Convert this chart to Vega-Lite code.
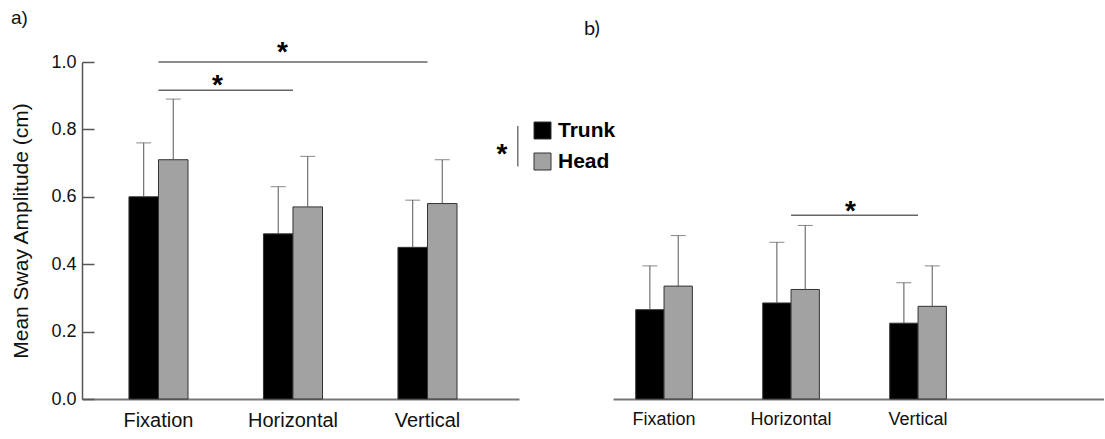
{
  "$schema": "https://vega.github.io/schema/vega-lite/v6.json",
  "background": "white",
  "padding": {"left": 10, "top": 9, "right": 0, "bottom": 0},
  "config": {"view": {"stroke": null}, "font": "Liberation Sans"},
  "datasets": {
    "bars": [
      {"panel": "a", "condition": "Fixation", "segment": "Trunk", "mean": 0.60, "upper": 0.76},
      {"panel": "a", "condition": "Fixation", "segment": "Head", "mean": 0.71, "upper": 0.89},
      {"panel": "a", "condition": "Horizontal", "segment": "Trunk", "mean": 0.49, "upper": 0.63},
      {"panel": "a", "condition": "Horizontal", "segment": "Head", "mean": 0.57, "upper": 0.72},
      {"panel": "a", "condition": "Vertical", "segment": "Trunk", "mean": 0.45, "upper": 0.59},
      {"panel": "a", "condition": "Vertical", "segment": "Head", "mean": 0.58, "upper": 0.71},
      {"panel": "b", "condition": "Fixation", "segment": "Trunk", "mean": 0.265, "upper": 0.395},
      {"panel": "b", "condition": "Fixation", "segment": "Head", "mean": 0.335, "upper": 0.485},
      {"panel": "b", "condition": "Horizontal", "segment": "Trunk", "mean": 0.285, "upper": 0.465},
      {"panel": "b", "condition": "Horizontal", "segment": "Head", "mean": 0.325, "upper": 0.515},
      {"panel": "b", "condition": "Vertical", "segment": "Trunk", "mean": 0.225, "upper": 0.345},
      {"panel": "b", "condition": "Vertical", "segment": "Head", "mean": 0.275, "upper": 0.395}
    ],
    "sig": [
      {"panel": "a", "from": "Fixation", "to": "Vertical", "level": 1.0, "starCat": "Horizontal", "starY": 1.047, "place": "on"},
      {"panel": "a", "from": "Fixation", "to": "Horizontal", "level": 0.916, "starCat": "Fixation", "starY": 0.95, "place": "between"},
      {"panel": "b", "from": "Horizontal", "to": "Vertical", "level": 0.545, "starCat": "Horizontal", "starY": 0.577, "place": "between"}
    ],
    "bracket": [
      {"panel": "a", "cat": "Vertical", "lo": 0.69, "hi": 0.81, "starY": 0.745}
    ]
  },
  "bounds": "flush",
  "spacing": 94,
  "resolve": {"scale": {"x": "independent", "xOffset": "independent", "fill": "shared", "y": "shared"}, "legend": {"fill": "independent"}},
  "hconcat": [
    {
      "width": 437,
      "height": 337,
      "title": {"text": "a)", "anchor": "start", "frame": "bounds", "fontSize": 19, "fontWeight": "normal", "font": "Liberation Sans", "color": "#111", "offset": 11},
      "layer": [
        {
          "data": {"name": "bars"},
          "transform": [{"filter": "datum.panel == 'a'"}],
          "mark": {"type": "bar", "stroke": "#333", "strokeWidth": 1},
          "encoding": {
            "x": {"field": "condition", "type": "nominal", "scale": {"domain": ["Fixation", "Horizontal", "Vertical"], "paddingInner": 0.561, "paddingOuter": 0.405, "align": 0.431},
                  "axis": {"title": null, "ticks": false, "domainColor": "#777", "domainWidth": 2, "labelFontSize": 20, "labelColor": "#111", "labelPadding": 11, "labelAngle": 0}},
            "xOffset": {"field": "segment", "type": "nominal", "scale": {"domain": ["Trunk", "Head"], "paddingInner": 0, "paddingOuter": 0}},
            "y": {"field": "mean", "type": "quantitative", "scale": {"domain": [0, 1], "nice": false},
                  "axis": {"title": "Mean Sway Amplitude (cm)", "titleFontSize": 21, "titleFontWeight": "normal", "titleColor": "#111", "titlePadding": 19,
                           "values": [0, 0.2, 0.4, 0.6, 0.8, 1.0], "format": ".1f", "labelFontSize": 18, "labelColor": "#111",
                           "tickSize": -12, "labelPadding": 18, "tickColor": "#555", "domainColor": "#555", "domainWidth": 1.5, "tickWidth": 1.5, "grid": false}},
            "fill": {"field": "segment", "type": "nominal", "scale": {"domain": ["Trunk", "Head"], "range": ["#000000", "#a2a2a2"]},
                     "legend": {"title": null, "orient": "none", "legendX": 450, "legendY": 58, "padding": 0,
                                "labelFontSize": 21, "labelFontWeight": "bold", "labelColor": "#000", "labelOffset": 5,
                                "symbolType": "square", "symbolSize": 289, "symbolStrokeColor": "#333", "symbolStrokeWidth": 1, "rowPadding": 9}}
          }
        },
        {
          "data": {"name": "bars"},
          "transform": [{"filter": "datum.panel == 'a'"}],
          "mark": {"type": "rule", "color": "#555", "strokeWidth": 1},
          "encoding": {
            "x": {"field": "condition", "type": "nominal", "scale": {"domain": ["Fixation", "Horizontal", "Vertical"]}, "axis": {"title": null}},
            "xOffset": {"field": "segment", "type": "nominal", "scale": {"domain": ["Trunk", "Head"]}},
            "y": {"field": "mean", "type": "quantitative", "axis": {"title": "Mean Sway Amplitude (cm)"}},
            "y2": {"field": "upper"}
          }
        },
        {
          "data": {"name": "bars"},
          "transform": [{"filter": "datum.panel == 'a'"}],
          "mark": {"type": "tick", "color": "#555", "thickness": 1, "size": 15},
          "encoding": {
            "x": {"field": "condition", "type": "nominal", "scale": {"domain": ["Fixation", "Horizontal", "Vertical"]}, "axis": {"title": null}},
            "xOffset": {"field": "segment", "type": "nominal", "scale": {"domain": ["Trunk", "Head"]}},
            "y": {"field": "upper", "type": "quantitative", "axis": {"title": "Mean Sway Amplitude (cm)"}}
          }
        },
        {
          "data": {"name": "sig"},
          "transform": [{"filter": "datum.panel == 'a'"}],
          "mark": {"type": "rule", "color": "#666", "strokeWidth": 1.5},
          "encoding": {
            "x": {"field": "from", "type": "nominal", "scale": {"domain": ["Fixation", "Horizontal", "Vertical"]}, "axis": {"title": null}},
            "x2": {"field": "to"},
            "y": {"field": "level", "type": "quantitative", "axis": {"title": "Mean Sway Amplitude (cm)"}}
          }
        },
        {
          "data": {"name": "sig"},
          "transform": [{"filter": "datum.panel == 'a' && datum.place == 'between'"}],
          "mark": {"type": "text", "text": "*", "fontSize": 28, "fontWeight": "bold", "baseline": "middle", "dy": 7, "color": "#000"},
          "encoding": {
            "x": {"field": "starCat", "type": "nominal", "bandPosition": 1.5, "scale": {"domain": ["Fixation", "Horizontal", "Vertical"]}, "axis": {"title": null}},
            "y": {"field": "starY", "type": "quantitative", "axis": {"title": "Mean Sway Amplitude (cm)"}}
          }
        },
        {
          "data": {"name": "sig"},
          "transform": [{"filter": "datum.panel == 'a' && datum.place == 'on'"}],
          "mark": {"type": "text", "text": "*", "fontSize": 28, "fontWeight": "bold", "baseline": "middle", "dy": 7, "color": "#000"},
          "encoding": {
            "x": {"field": "starCat", "type": "nominal", "bandPosition": 0.32, "scale": {"domain": ["Fixation", "Horizontal", "Vertical"]}, "axis": {"title": null}},
            "y": {"field": "starY", "type": "quantitative", "axis": {"title": "Mean Sway Amplitude (cm)"}}
          }
        },
        {
          "data": {"name": "bracket"},
          "mark": {"type": "rule", "color": "#555", "strokeWidth": 1.2},
          "encoding": {
            "x": {"field": "cat", "type": "nominal", "bandPosition": 2.03, "scale": {"domain": ["Fixation", "Horizontal", "Vertical"]}, "axis": {"title": null}},
            "y": {"field": "lo", "type": "quantitative", "axis": {"title": "Mean Sway Amplitude (cm)"}},
            "y2": {"field": "hi"}
          }
        },
        {
          "data": {"name": "bracket"},
          "mark": {"type": "text", "text": "*", "fontSize": 28, "fontWeight": "bold", "baseline": "middle", "dy": 7, "color": "#000"},
          "encoding": {
            "x": {"field": "cat", "type": "nominal", "bandPosition": 1.76, "scale": {"domain": ["Fixation", "Horizontal", "Vertical"]}, "axis": {"title": null}},
            "y": {"field": "starY", "type": "quantitative", "axis": {"title": "Mean Sway Amplitude (cm)"}}
          }
        }
      ]
    },
    {
      "width": 491,
      "height": 337,
      "title": {"text": "b)", "anchor": "start", "frame": "group", "fontSize": 20, "fontWeight": "normal", "font": "Lato", "color": "#111", "dx": -29, "offset": 23},
      "layer": [
        {
          "data": {"name": "bars"},
          "transform": [{"filter": "datum.panel == 'b'"}],
          "mark": {"type": "bar", "stroke": "#333", "strokeWidth": 1},
          "encoding": {
            "x": {"field": "condition", "type": "nominal", "scale": {"domain": ["Fixation", "Horizontal", "Vertical"], "paddingInner": 0.554, "paddingOuter": 0.71, "align": 0.126},
                  "axis": {"title": null, "ticks": false, "domainColor": "#777", "domainWidth": 2, "labelFontSize": 18, "labelColor": "#111", "labelPadding": 11, "labelAngle": 0}},
            "xOffset": {"field": "segment", "type": "nominal", "scale": {"domain": ["Trunk", "Head"], "paddingInner": 0, "paddingOuter": 0}},
            "y": {"field": "mean", "type": "quantitative", "scale": {"domain": [0, 1], "nice": false}, "axis": null},
            "fill": {"field": "segment", "type": "nominal", "scale": {"domain": ["Trunk", "Head"], "range": ["#000000", "#a2a2a2"]}, "legend": null}
          }
        },
        {
          "data": {"name": "bars"},
          "transform": [{"filter": "datum.panel == 'b'"}],
          "mark": {"type": "rule", "color": "#555", "strokeWidth": 1},
          "encoding": {
            "x": {"field": "condition", "type": "nominal", "scale": {"domain": ["Fixation", "Horizontal", "Vertical"]}, "axis": {"title": null}},
            "xOffset": {"field": "segment", "type": "nominal", "scale": {"domain": ["Trunk", "Head"]}},
            "y": {"field": "mean", "type": "quantitative", "axis": null},
            "y2": {"field": "upper"}
          }
        },
        {
          "data": {"name": "bars"},
          "transform": [{"filter": "datum.panel == 'b'"}],
          "mark": {"type": "tick", "color": "#555", "thickness": 1, "size": 15},
          "encoding": {
            "x": {"field": "condition", "type": "nominal", "scale": {"domain": ["Fixation", "Horizontal", "Vertical"]}, "axis": {"title": null}},
            "xOffset": {"field": "segment", "type": "nominal", "scale": {"domain": ["Trunk", "Head"]}},
            "y": {"field": "upper", "type": "quantitative", "axis": null}
          }
        },
        {
          "data": {"name": "sig"},
          "transform": [{"filter": "datum.panel == 'b'"}],
          "mark": {"type": "rule", "color": "#666", "strokeWidth": 1.5},
          "encoding": {
            "x": {"field": "from", "type": "nominal", "scale": {"domain": ["Fixation", "Horizontal", "Vertical"]}, "axis": {"title": null}},
            "x2": {"field": "to"},
            "y": {"field": "level", "type": "quantitative", "axis": null}
          }
        },
        {
          "data": {"name": "sig"},
          "transform": [{"filter": "datum.panel == 'b'"}],
          "mark": {"type": "text", "text": "*", "fontSize": 28, "fontWeight": "bold", "baseline": "middle", "dy": 7, "color": "#000"},
          "encoding": {
            "x": {"field": "starCat", "type": "nominal", "bandPosition": 1.55, "scale": {"domain": ["Fixation", "Horizontal", "Vertical"]}, "axis": {"title": null}},
            "y": {"field": "starY", "type": "quantitative", "axis": null}
          }
        }
      ]
    }
  ]
}
